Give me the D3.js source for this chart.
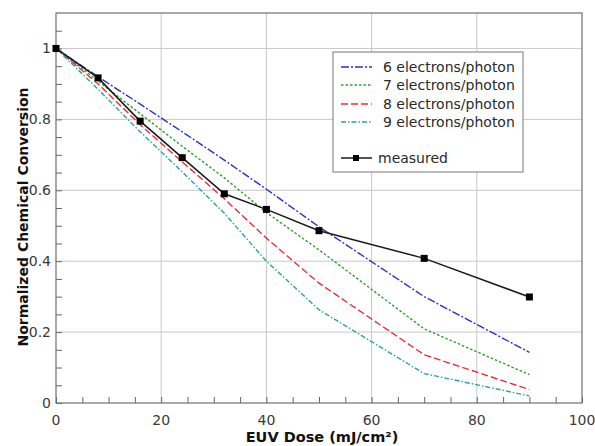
<!DOCTYPE html>
<html>
<head>
<meta charset="utf-8">
<script src="https://cdn.jsdelivr.net/npm/d3@7"></script>
<style>
  html, body { margin: 0; padding: 0; background: #fff; }
  svg { display: block; }
</style>
</head>
<body>
<svg id="chart" width="595" height="446"></svg>
<script>
// Dose points (mJ/cm²)
const doses = [0, 8, 16, 24, 32, 40, 50, 70, 90];

// Simulated conversion for different electron yields
const sim6 = [1, 0.92, 0.843, 0.765, 0.685, 0.603, 0.497, 0.300, 0.143];
const sim7 = [1, 0.908, 0.816, 0.724, 0.635, 0.537, 0.432, 0.209, 0.080];
const sim8 = [1, 0.900, 0.785, 0.680, 0.576, 0.465, 0.338, 0.136, 0.038];
const sim9 = [1, 0.885, 0.765, 0.652, 0.535, 0.400, 0.263, 0.083, 0.020];

// Measured conversion
const measured = [1, 0.917, 0.795, 0.692, 0.590, 0.546, 0.486, 0.408, 0.299];

const seriesNames = ["6 electrons/photon", "7 electrons/photon", "8 electrons/photon", "9 electrons/photon"];
const seriesColors = ["#3030c8", "#2f9e2f", "#e8303a", "#2aa3a0"];
const seriesDash = ["8,2,2,2", "2.5,2", "7,3", "5,2,1.5,2"];

const xTicks = [0, 20, 40, 60, 80, 100];
const yTicks = [0, 0.2, 0.4, 0.6, 0.8, 1];
const yTickLabels = ["0", "0.2", "0.4", "0.6", "0.8", "1"];

const svg = d3.select("#chart");
const plotL = 56, plotR = 582, plotT = 13, plotB = 403;
const font = "DejaVu Sans, Verdana, sans-serif";

const x = d3.scaleLinear().domain([0, 100]).range([plotL, plotR]);
const y = d3.scaleLinear().domain([0, 1.1]).range([plotB, plotT]);

// Grid lines
const grid = svg.append("g");
grid.selectAll("line.gx").data(xTicks.filter(d => d > 0 && d < 100)).join("line")
  .attr("x1", d => x(d)).attr("x2", d => x(d))
  .attr("y1", plotT).attr("y2", plotB)
  .attr("stroke", "#c8c8c8").attr("stroke-width", 1);
grid.selectAll("line.gy").data(yTicks.filter(d => d > 0)).join("line")
  .attr("y1", d => y(d)).attr("y2", d => y(d))
  .attr("x1", plotL).attr("x2", plotR)
  .attr("stroke", "#c8c8c8").attr("stroke-width", 1);

// Inner minor/major ticks
const xAxis = d3.axisBottom(x).tickValues(d3.range(0, 101, 5)).tickSize(-6).tickFormat("");
svg.append("g").attr("transform", `translate(0,${plotB})`).call(xAxis)
  .call(g => g.select(".domain").remove())
  .selectAll("line").attr("stroke", "#666");
const yAxis = d3.axisLeft(y).tickValues(d3.range(0, 22).map(i => i * 0.05)).tickSize(-6).tickFormat("");
svg.append("g").attr("transform", `translate(${plotL},0)`).call(yAxis)
  .call(g => g.select(".domain").remove())
  .selectAll("line").attr("stroke", "#666");

// Plot frame
svg.append("rect")
  .attr("x", plotL).attr("y", plotT)
  .attr("width", plotR - plotL).attr("height", plotB - plotT)
  .attr("fill", "none").attr("stroke", "#707070").attr("stroke-width", 1.2);

// Tick labels
svg.append("g").selectAll("text").data(xTicks).join("text")
  .attr("x", d => x(d)).attr("y", plotB + 22)
  .attr("text-anchor", "middle")
  .attr("font-family", font)
  .attr("font-size", 14).attr("fill", "#3a3a3a")
  .text(d => d);
svg.append("g").selectAll("text").data(yTicks).join("text")
  .attr("x", plotL - 5).attr("y", d => y(d) + 5)
  .attr("text-anchor", "end")
  .attr("font-family", font)
  .attr("font-size", 14).attr("fill", "#3a3a3a")
  .text((d, i) => yTickLabels[i]);

// Axis titles
svg.append("text")
  .attr("x", (plotL + plotR) / 2 + 3).attr("y", 442)
  .attr("text-anchor", "middle")
  .attr("font-family", font)
  .attr("font-weight", "bold").attr("font-size", 14.5).attr("fill", "#111")
  .text("EUV Dose (mJ/cm²)");
svg.append("text")
  .attr("transform", `translate(28,217) rotate(-90)`)
  .attr("text-anchor", "middle")
  .attr("font-family", font)
  .attr("font-weight", "bold").attr("font-size", 14).attr("fill", "#111")
  .text("Normalized Chemical Conversion");

// Simulation curves
const line = d3.line().x((d, i) => x(doses[i])).y(d => y(d));
const sims = [sim6, sim7, sim8, sim9];
svg.append("g").selectAll("path").data(sims).join("path")
  .attr("d", d => line(d))
  .attr("fill", "none")
  .attr("stroke", (d, i) => seriesColors[i])
  .attr("stroke-width", 1.4)
  .attr("stroke-dasharray", (d, i) => seriesDash[i]);

// Measured curve with square markers
svg.append("path")
  .attr("d", line(measured))
  .attr("fill", "none").attr("stroke", "#1a1a1a").attr("stroke-width", 1.5);
svg.append("g").selectAll("rect").data(measured).join("rect")
  .attr("x", (d, i) => x(doses[i]) - 3.5).attr("y", d => y(d) - 3.5)
  .attr("width", 7).attr("height", 7).attr("fill", "#000");

// Legend
const lg = svg.append("g");
lg.append("rect").attr("x", 333).attr("y", 52).attr("width", 190).attr("height", 120)
  .attr("fill", "#fff").attr("stroke", "#777").attr("stroke-width", 1);
const rowY = [67, 85, 104, 122];
seriesNames.forEach((name, i) => {
  lg.append("line").attr("x1", 341).attr("x2", 372).attr("y1", rowY[i]).attr("y2", rowY[i])
    .attr("stroke", seriesColors[i]).attr("stroke-width", 1.4).attr("stroke-dasharray", seriesDash[i]);
  lg.append("text").attr("x", 383).attr("y", rowY[i] + 5)
    .attr("font-family", font).attr("font-size", 14).attr("fill", "#2a2a2a")
    .text(name);
});
lg.append("line").attr("x1", 341).attr("x2", 372).attr("y1", 158).attr("y2", 158)
  .attr("stroke", "#1a1a1a").attr("stroke-width", 1.5);
lg.append("rect").attr("x", 353).attr("y", 155).attr("width", 6).attr("height", 6).attr("fill", "#000");
lg.append("text").attr("x", 378).attr("y", 163)
  .attr("font-family", font).attr("font-size", 14).attr("fill", "#2a2a2a")
  .text("measured");
</script>
</body>
</html>
